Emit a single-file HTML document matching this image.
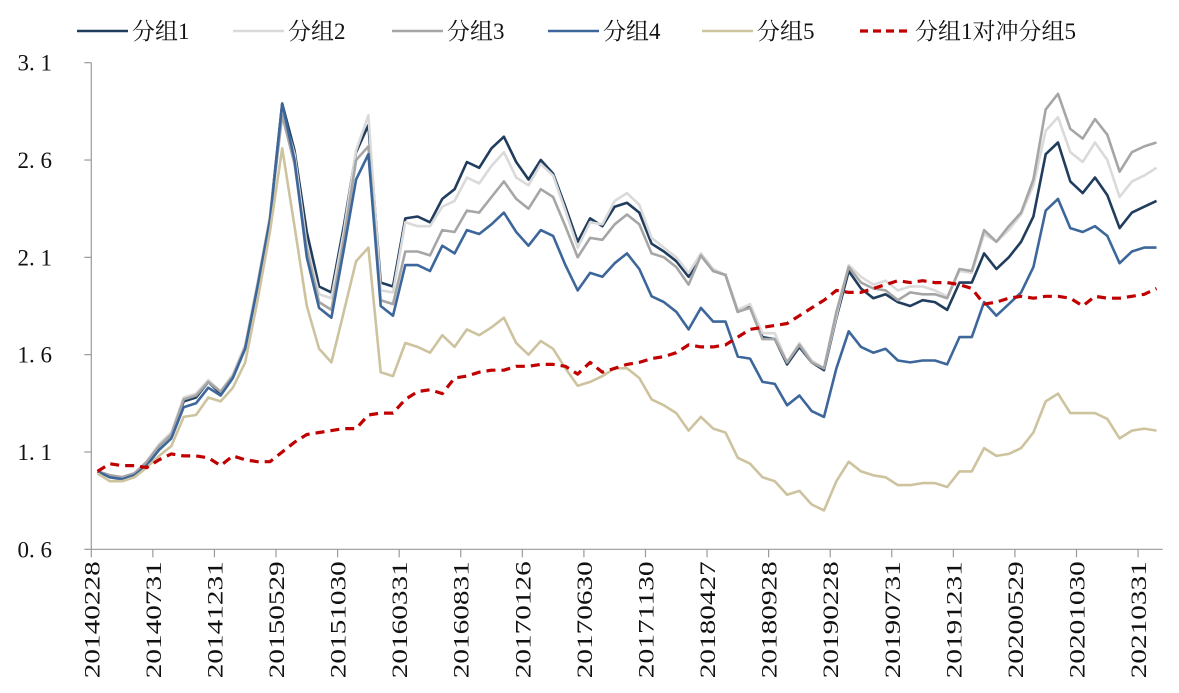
<!DOCTYPE html>
<html><head><meta charset="utf-8"><style>
html,body{margin:0;padding:0;background:#fff;}
svg{display:block;font-family:"Liberation Serif","Noto Serif CJK SC",serif;}
</style></head><body>
<svg id="chart" width="1179" height="693" viewBox="0 0 1179 693" xmlns="http://www.w3.org/2000/svg">
<g id="legend"></g>
<g id="axes"></g>
<g id="series"></g>
</svg>
<script>
const xTickLabels = ["20140228","20140731","20141231","20150529","20151030","20160331","20160831","20170126","20170630","20171130","20180427","20180928","20190228","20190731","20191231","20200529","20201030","20210331"];
const yTicks = [0.6,1.1,1.6,2.1,2.6,3.1];
const yTickLabels = ["0. 6","1. 1","1. 6","2. 1","2. 6","3. 1"];
const seriesNames = ["分组1","分组2","分组3","分组4","分组5","分组1对冲分组5"];
const g1 = [1.00,0.98,0.97,0.99,1.04,1.13,1.19,1.36,1.38,1.46,1.40,1.49,1.64,1.96,2.30,2.89,2.65,2.23,1.95,1.92,2.26,2.64,2.78,1.97,1.95,2.30,2.31,2.28,2.40,2.45,2.59,2.56,2.66,2.72,2.59,2.50,2.60,2.53,2.36,2.18,2.30,2.26,2.36,2.38,2.33,2.17,2.13,2.08,2.00,2.11,2.03,2.01,1.82,1.85,1.69,1.68,1.55,1.64,1.56,1.52,1.79,2.03,1.94,1.89,1.91,1.87,1.85,1.88,1.87,1.83,1.97,1.97,2.12,2.04,2.10,2.18,2.31,2.63,2.69,2.49,2.43,2.51,2.42,2.25,2.33,2.36,2.39];
const g2 = [1.00,0.98,0.97,0.99,1.05,1.14,1.20,1.38,1.40,1.47,1.41,1.50,1.65,1.97,2.31,2.85,2.63,2.16,1.91,1.89,2.23,2.65,2.83,1.93,1.92,2.28,2.26,2.26,2.36,2.39,2.51,2.48,2.57,2.64,2.51,2.47,2.58,2.52,2.34,2.15,2.28,2.27,2.39,2.43,2.37,2.20,2.15,2.10,2.02,2.12,2.04,2.01,1.83,1.86,1.71,1.71,1.56,1.66,1.57,1.53,1.80,2.06,2.00,1.96,1.98,1.93,1.95,1.95,1.93,1.90,2.03,2.02,2.22,2.18,2.24,2.32,2.47,2.75,2.82,2.64,2.59,2.69,2.60,2.41,2.49,2.52,2.56];
const g3 = [1.00,0.98,0.97,0.99,1.05,1.13,1.19,1.37,1.39,1.46,1.41,1.49,1.64,1.96,2.30,2.83,2.58,2.14,1.87,1.83,2.19,2.60,2.67,1.88,1.86,2.13,2.13,2.11,2.24,2.23,2.34,2.33,2.41,2.49,2.40,2.35,2.45,2.41,2.26,2.10,2.20,2.19,2.27,2.32,2.27,2.12,2.10,2.05,1.96,2.11,2.03,2.01,1.82,1.84,1.68,1.68,1.56,1.65,1.56,1.53,1.82,2.05,1.97,1.94,1.93,1.88,1.92,1.91,1.91,1.89,2.04,2.03,2.24,2.18,2.26,2.33,2.50,2.86,2.94,2.76,2.71,2.81,2.73,2.54,2.64,2.67,2.69];
const g4 = [1.00,0.97,0.96,0.98,1.03,1.11,1.17,1.33,1.35,1.43,1.39,1.48,1.63,1.95,2.29,2.89,2.60,2.10,1.84,1.79,2.14,2.50,2.63,1.85,1.80,2.06,2.06,2.03,2.16,2.12,2.24,2.22,2.27,2.33,2.23,2.16,2.24,2.21,2.06,1.93,2.02,2.00,2.07,2.12,2.04,1.90,1.87,1.82,1.73,1.84,1.77,1.77,1.59,1.58,1.46,1.45,1.34,1.39,1.31,1.28,1.53,1.72,1.64,1.61,1.63,1.57,1.56,1.57,1.57,1.55,1.69,1.69,1.87,1.80,1.86,1.92,2.05,2.34,2.40,2.25,2.23,2.26,2.21,2.07,2.13,2.15,2.15];
const g5 = [0.99,0.95,0.95,0.97,1.02,1.08,1.13,1.28,1.29,1.38,1.36,1.43,1.56,1.88,2.23,2.66,2.26,1.85,1.63,1.56,1.82,2.08,2.15,1.51,1.49,1.66,1.64,1.61,1.70,1.64,1.73,1.70,1.74,1.79,1.66,1.60,1.67,1.63,1.53,1.44,1.46,1.49,1.53,1.53,1.48,1.37,1.34,1.30,1.21,1.28,1.22,1.20,1.07,1.04,0.97,0.95,0.88,0.90,0.83,0.80,0.95,1.05,1.00,0.98,0.97,0.93,0.93,0.94,0.94,0.92,1.00,1.00,1.12,1.08,1.09,1.12,1.20,1.36,1.40,1.30,1.30,1.30,1.27,1.17,1.21,1.22,1.21];
const hedge = [1.00,1.04,1.03,1.03,1.02,1.06,1.09,1.08,1.08,1.07,1.03,1.08,1.06,1.05,1.05,1.10,1.15,1.19,1.20,1.21,1.22,1.22,1.29,1.30,1.30,1.37,1.41,1.42,1.40,1.48,1.49,1.51,1.52,1.52,1.54,1.54,1.55,1.55,1.54,1.50,1.56,1.51,1.53,1.55,1.56,1.58,1.59,1.61,1.65,1.64,1.64,1.65,1.69,1.73,1.74,1.75,1.76,1.80,1.84,1.88,1.93,1.92,1.92,1.94,1.96,1.98,1.97,1.98,1.97,1.97,1.96,1.94,1.86,1.87,1.89,1.90,1.89,1.90,1.90,1.89,1.85,1.90,1.89,1.89,1.90,1.91,1.94];

const NS="http://www.w3.org/2000/svg";
const L=91.3, R=1162.7, T=62.7, B=549.3;
const N=g1.length;
const step=(R-L)/N;
function xScale(i){return L+step*(i+0.5);}
function xBoundary(k){return L+step*k;}
function yScale(v){return B-(v-0.6)/(3.1-0.6)*(B-T);}
function mk(tag,attrs,parent){const e=document.createElementNS(NS,tag);for(const k in attrs)e.setAttribute(k,attrs[k]);parent.appendChild(e);return e;}

const axes=document.getElementById('axes');
let e=mk('line',{x1:L,y1:T,x2:L,y2:B,stroke:'#9a9a9a','stroke-width':1.2},axes);


e=mk('line',{x1:L,y1:B,x2:R,y2:B,stroke:'#9a9a9a','stroke-width':1.2},axes);


yTicks.forEach((v,j)=>{
  const y=yScale(v);
  const t=mk('line',{x1:L-7,y1:y,x2:L,y2:y,stroke:'#9a9a9a','stroke-width':1.2},axes);
  
  
  const tx=mk('text',{x:52,y:y+8,'text-anchor':'end','font-size':23,fill:'#111'},axes);
  tx.textContent=yTickLabels[j];
  
  
});
xTickLabels.forEach((lab,k)=>{
  const x=xBoundary(k*5);
  const t=mk('line',{x1:x,y1:B,x2:x,y2:B+8,stroke:'#9a9a9a','stroke-width':1.2},axes);
  
  
  const tx=mk('text',{x:0,y:0,'text-anchor':'end','font-size':22,fill:'#111',textLength:117,lengthAdjust:'spacingAndGlyphs',transform:`translate(${x+8},${B+12}) rotate(-90)`},axes);
  tx.textContent=lab;
  
  
});

const ser=document.getElementById('series');
const styles=[
 {c:'#213d5e',w:2.6,d:null,data:g1,n:'series-group1'},
 {c:'#dadada',w:2.6,d:null,data:g2,n:'series-group2'},
 {c:'#a6a6a6',w:2.6,d:null,data:g3,n:'series-group3'},
 {c:'#3d679b',w:2.6,d:null,data:g4,n:'series-group4'},
 {c:'#cdc39f',w:2.6,d:null,data:g5,n:'series-group5'},
 {c:'#c00000',w:3.2,d:'9,6',data:hedge,n:'series-hedge'}
];
styles.forEach(s=>{
  const pts=s.data.map((v,i)=>xScale(i).toFixed(1)+','+yScale(v).toFixed(1)).join(' ');
  const a={points:pts,fill:'none',stroke:s.c,'stroke-width':s.w,'stroke-linejoin':'round'};
  if(s.d)a['stroke-dasharray']=s.d;
  const p=mk('polyline',a,ser);
  
  
});

const leg=document.getElementById('legend');
const legX=[77,233,392,548,702,860];
styles.forEach((s,j)=>{
  const x=legX[j];
  const a={x1:x,y1:31,x2:x+51,y2:31,stroke:s.c,'stroke-width':s.w};
  if(s.d)a['stroke-dasharray']='8,5';
  const ln=mk('line',a,leg);
  
  
  const tx=mk('text',{x:x+55,y:39,'font-size':23,fill:'#111'},leg);
  tx.textContent=seriesNames[j];
  
  
});
</script>
</body></html>
